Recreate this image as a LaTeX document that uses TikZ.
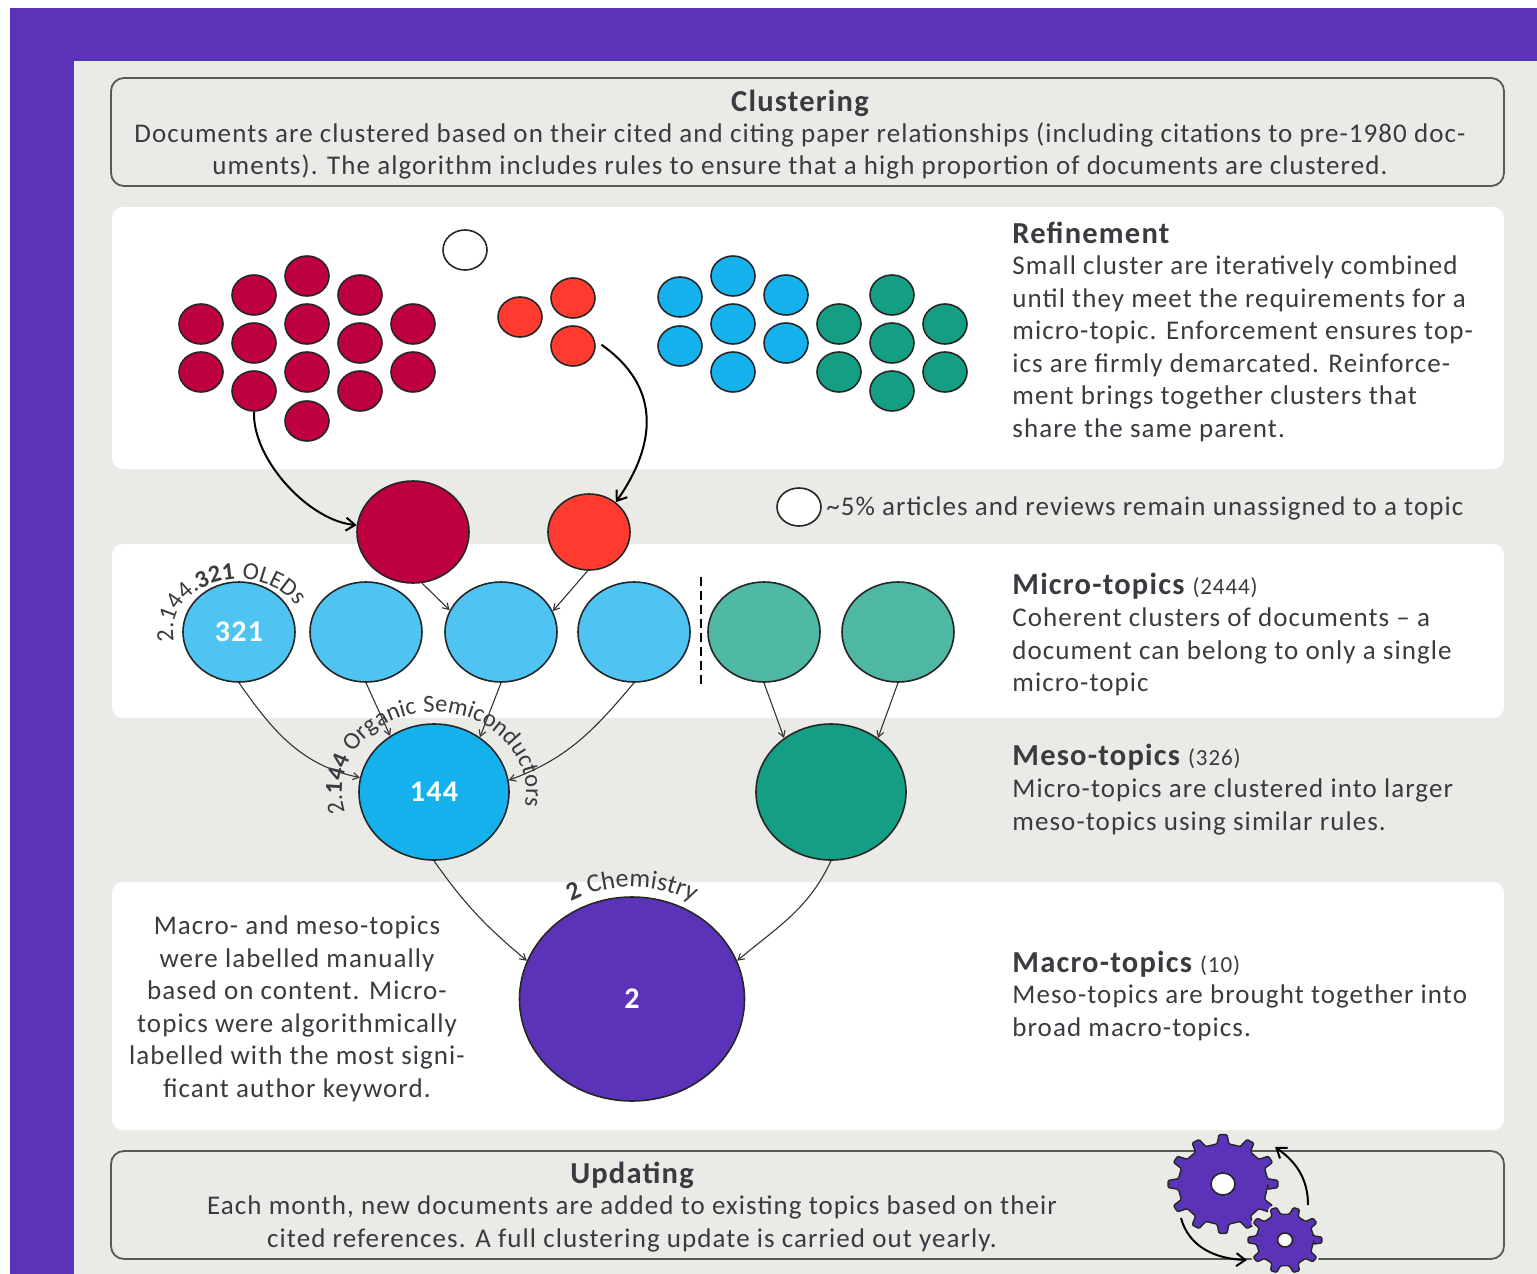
\documentclass[tikz,border=0pt]{standalone}
\usepackage{fontspec}
\setmainfont{Carlito}[LetterSpace=4]
\usetikzlibrary{shapes.geometric, arrows.meta, decorations.text}

\definecolor{royal}{HTML}{5B33B9}
\definecolor{panel}{HTML}{EAEBE7}
\definecolor{ink}{HTML}{3A3A40}
\definecolor{crimson}{HTML}{BE0040}
\definecolor{scarlet}{HTML}{FF3B30}
\definecolor{sky}{HTML}{14B1EC}
\definecolor{skylight}{HTML}{4FC3F1}
\definecolor{teal}{HTML}{149F84}
\definecolor{teallight}{HTML}{4FB8A4}

\newcommand{\bodyfont}{\fontsize{27}{32.5}\selectfont}
\newcommand{\headfont}{\fontsize{30.5}{32}\selectfont\bfseries}
\newcommand{\countfont}{\fontsize{23}{24}\selectfont}
\newcommand{\curvefont}{\fontsize{24.5}{26}\selectfont}
\newcommand{\widefont}{\fontsize{26}{28}\selectfont}

% curved label: centre x, centre y, radius x, radius y, from, to, text
\newcommand{\arclabel}[7]{
  \path[decorate, decoration={text along path, text align=left, text={#7}}]
    ({#1+#3*cos(#5)}, {#2-#4*sin(#5)}) arc[start angle=#5, end angle=#6, x radius=#3pt, y radius=#4pt];
}
% gear: teeth, outer radius, root radius
\newcommand{\gearshape}[3]{
  (0:#3) \foreach \t [evaluate=\t as \a using \t*360/#1] in {1,...,#1} {
    -- (\a-90/#1:#3) -- (\a-50/#1:#2) -- (\a+50/#1:#2) -- (\a+90/#1:#3)
  } -- cycle
}

\begin{document}
\begin{tikzpicture}[x=1pt, y=-1pt, thick,
  sheet/.style={rounded corners=11pt, fill=white},
  frame/.style={rounded corners=13pt, draw=black!65, line width=1.8pt},
  blob/.style={ellipse, draw=black!85, line width=1.6pt, inner sep=0pt},
  dot/.style={blob, minimum width=44pt, minimum height=40pt},
  micro/.style={blob, minimum width=112pt, minimum height=100pt},
  meso/.style={blob, minimum width=150pt, minimum height=136pt},
  count/.style={white, font=\fontsize{30}{32}\selectfont\bfseries},
  body/.style={text=ink, font=\bodyfont, align=left, anchor=west, inner sep=0pt},
  middle/.style={text=ink, font=\bodyfont, align=center, inner sep=0pt},
  head/.style={text=ink, font=\headfont, inner sep=0pt},
  link/.style={black!80, line width=1.1pt, -{Straight Barb[length=6pt, width=7pt]}},
  bigarrow/.style={black, line width=2pt, -{Straight Barb[length=9pt, width=13pt]}},
  gearbody/.style={fill=royal, draw=black!85, line width=1.4pt, rounded corners=1.2pt}]

\useasboundingbox (0,0) rectangle (1537,1274);
\fill[royal] (10,8) rectangle (1537,1274);
\fill[panel] (74,61) rectangle (1537,1274);

% panels
\fill[sheet] (112,207) rectangle (1504,469);
\fill[sheet] (112,544) rectangle (1504,718);
\fill[sheet] (112,882) rectangle (1504,1130);
\draw[frame] (111,78) rectangle (1504,186);
\draw[frame] (111,1151) rectangle (1504,1259);

% small clusters
\foreach \x/\y [count=\n] in {201/324, 201/372, 254/295, 254/343, 254/391, 307/276, 307/324, 307/372, 307/421, 360/295, 360/343, 360/391, 413/324, 413/372} {
  \node[dot, fill=crimson] (cr\n) at (\x,\y) {};
}
\foreach \x/\y [count=\n] in {520/317, 573/298, 573/346} {
  \node[dot, fill=scarlet] (sc\n) at (\x,\y) {};
}
\foreach \x/\y [count=\n] in {680/297, 680/346, 733/276, 733/324, 733/372, 786/295, 786/343} {
  \node[dot, fill=sky] (sk\n) at (\x,\y) {};
}
\foreach \x/\y [count=\n] in {839/324, 839/372, 892/295, 892/343, 892/391, 945/324, 945/372} {
  \node[dot, fill=teal] (te\n) at (\x,\y) {};
}
\node[dot, fill=white] (loose) at (465,250) {};
\node[blob, fill=white, minimum width=44pt, minimum height=38pt] (rest) at (799,507) {};

% combined clusters
\node[blob, fill=crimson, minimum width=112pt, minimum height=102pt] (bigcr) at (413,532) {};
\node[blob, fill=scarlet, minimum width=82pt, minimum height=76pt] (bigsc) at (589,532) {};

% topics
\node[micro, fill=skylight] (mi1) at (239,632) {};
\node[micro, fill=skylight] (mi2) at (366,632) {};
\node[micro, fill=skylight] (mi3) at (501,632) {};
\node[micro, fill=skylight] (mi4) at (634,632) {};
\node[micro, fill=teallight] (mi5) at (764,632) {};
\node[micro, fill=teallight] (mi6) at (898,632) {};
\node[meso, fill=sky] (me1) at (434,792) {};
\node[meso, fill=teal] (me2) at (831,792) {};
\node[blob, fill=royal, minimum width=225pt, minimum height=204pt] (ma) at (632,999) {};
\node[count] (n321) at (239,632) {321};
\node[count] (n144) at (434,792) {144};
\node[count] (n2) at (632,999) {2};

% connectors
\draw[bigarrow] (cr5.south) to[out=-92, in=175, looseness=0.8] (bigcr.173);
\draw[bigarrow, shorten <=8pt] (sc3.15) to[out=-35, in=55, looseness=1.2] (bigsc.48);
\draw[link] (bigcr.-80) -- (mi3.157);
\draw[link] (bigsc.-92) -- (mi3.22);
\draw[link] (mi1.south) to[out=-55, in=168] (me1.169);
\draw[link] (mi2.south) -- (me1.128);
\draw[link] (mi3.south) -- (me1.50);
\draw[link] (mi4.south) to[out=-130, in=20] (me1.9);
\draw[link] (mi5.south) -- (me2.131);
\draw[link] (mi6.south) -- (me2.49);
\draw[link] (me1.south) to[out=-55, in=140] (ma.160);
\draw[link] (me2.south) to[out=-115, in=40] (ma.20);

\coordinate (cutA) at (701,577);
\coordinate (cutB) at (701,685);
\draw[black, line width=1.8pt, dash pattern=on 9pt off 5pt] (cutA) -- (cutB);

% curved labels
\arclabel{239}{632}{66}{53}{190}{-80}{|\curvefont\color{ink}|2.144.|\curvefont\bfseries\color{ink}|321|\curvefont\color{ink}| OLEDs}
\arclabel{434}{792}{92}{80}{195}{-80}{|\curvefont\color{ink}|2.|\curvefont\bfseries\color{ink}|144|\curvefont\color{ink}| Organic Semiconductors}
\arclabel{632}{999}{122}{112}{120}{20}{|\widefont\bfseries\color{ink}|2|\widefont\color{ink}| Chemistry}

% texts
\node[head] (tclust) at (800,103) {Clustering};
\node[middle] (pclust) at (800,151) {Documents are clustered based on their cited and citing paper relationships (including citations to pre-1980 doc-\\uments). The algorithm includes rules to ensure that a high proportion of documents are clustered.};
\node[head, anchor=west] (trefine) at (1012,233) {Refinement};
\node[body] (prefine) at (1012,349) {Small cluster are iteratively combined\\until they meet the requirements for a\\micro-topic. Enforcement ensures top-\\ics are firmly demarcated. Reinforce-\\ment brings together clusters that\\share the same parent.};
\node[body] (prest) at (826,508) {\textasciitilde5\% articles and reviews remain unassigned to a topic};
\node[head, anchor=west] (tmicro) at (1012,586) {Micro-topics {\countfont\mdseries (2444)}};
\node[body] (pmicro) at (1012,652) {Coherent clusters of documents -- a\\document can belong to only a single\\micro-topic};
\node[head, anchor=west] (tmeso) at (1012,757) {Meso-topics {\countfont\mdseries (326)}};
\node[body] (pmeso) at (1012,807) {Micro-topics are clustered into larger\\meso-topics using similar rules.};
\node[head, anchor=west] (tmacro) at (1012,964) {Macro-topics {\countfont\mdseries (10)}};
\node[body] (pmacro) at (1012,1013) {Meso-topics are brought together into\\broad macro-topics.};
\node[middle] (plabel) at (297,1009) {Macro- and meso-topics\\were labelled manually\\based on content. Micro-\\topics were algorithmically\\labelled with the most signi-\\ficant author keyword.};
\node[head] (tupdate) at (632,1175) {Updating};
\node[middle] (pupdate) at (632,1224) {Each month, new documents are added to existing topics based on their\\cited references. A full clustering update is carried out yearly.};

% gears
\draw[gearbody, shift={(1223,1184)}, yscale=0.9] \gearshape{12}{55}{45};
\node[blob, fill=white, minimum width=24pt, minimum height=22pt] (holeA) at (1223,1184) {};
\draw[gearbody, shift={(1285,1240)}, yscale=0.9, preaction={draw=panel, line width=5pt}] \gearshape{10}{37}{29};
\node[blob, fill=white, minimum width=15pt, minimum height=14pt] (holeB) at (1285,1240) {};
\coordinate (turnA) at (1308,1205);
\coordinate (turnB) at (1275,1147);
\coordinate (turnC) at (1181,1218);
\coordinate (turnD) at (1247,1260);
\draw[bigarrow] (turnA) to[out=90, in=-35] (turnB);
\draw[bigarrow] (turnC) to[out=-75, in=178] (turnD);

\end{tikzpicture}
\end{document}
